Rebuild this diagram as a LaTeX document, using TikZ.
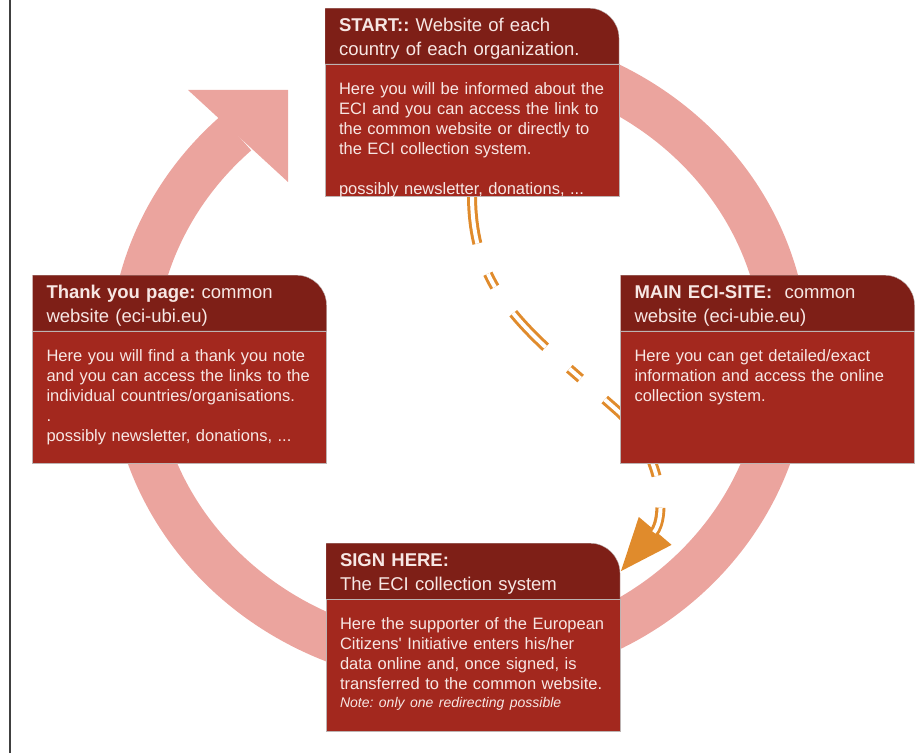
\documentclass[tikz,border=0pt]{standalone}
\usepackage{fontspec}
\setmainfont{Liberation Sans}
\usetikzlibrary{positioning,arrows.meta,backgrounds}
\tikzset{>=latex}
\frenchspacing

\definecolor{hdrred}{HTML}{7E1F17}
\definecolor{bodyred}{HTML}{A3281E}
\definecolor{ringpink}{HTML}{EBA49E}
\definecolor{floworange}{HTML}{E08B2C}
\definecolor{txtpale}{HTML}{F7E7E4}
\definecolor{edgegrey}{HTML}{BDB3B2}

\begin{document}
\begin{tikzpicture}[x=1pt, y=1pt]
    \tikzset{%
      hdr/.style={minimum width=294pt, minimum height=56pt, inner xsep=14pt, inner ysep=0pt,
        text width=266pt, align=left, text height=23pt, text depth=33pt, text=txtpale,
        font=\fontsize{18.5}{24}\selectfont,
        path picture={\fill[hdrred, draw=edgegrey] (path picture bounding box.south west)
          -- (path picture bounding box.north west) -- ([xshift=-30pt]path picture bounding box.north east)
          arc[start angle=90, end angle=0, radius=30pt] -- (path picture bounding box.south east) -- cycle;}},
      bod/.style={fill=bodyred, draw=edgegrey, line width=0.6pt, minimum width=294pt, minimum height=132pt,
        inner xsep=14pt, inner ysep=0pt, text width=266pt, align=left, text height=30pt, text depth=102pt,
        text=txtpale, font=\fontsize{16.5}{20}\selectfont},
      ring/.style={draw=ringpink, line width=46pt},
      flow/.style={draw=floworange, line width=10pt, dash pattern=on 47pt off 32pt on 15pt off 32pt},
      flowgap/.style={draw=white, line width=4pt, dash pattern=on 47pt off 32pt on 15pt off 32pt}
      }
    \useasboundingbox (0,0) rectangle (918,753);
    \draw [line width=1.2pt, black!75] (10,0) -- (10,753);

    \node [hdr, anchor=north] (start) at (472,745) {\textbf{START::} Website of each\\country of each organization.};
    \node [bod, below=0pt of start] (startbody) {Here you will be informed about the\\ECI and you can access the link to\\the common website or directly to\\the ECI collection system.\\[20pt]possibly newsletter, donations, ...};

    \node [hdr, anchor=north] (thank) at (179.5,478) {\textbf{Thank you page:} common\\website (eci-ubi.eu)};
    \node [bod, below=0pt of thank] (thankbody) {Here you will find a thank you note\\and you can access the links to the\\individual countries/organisations.\\.\\possibly newsletter, donations, ...};

    \node [hdr, anchor=north] (main) at (767.5,478) {\textbf{MAIN ECI-SITE:}\ \ common\\website (eci-ubie.eu)};
    \node [bod, below=0pt of main] (mainbody) {Here you can get detailed/exact\\information and access the online\\collection system.};

    \node [hdr, anchor=north] (sign) at (473,210) {\textbf{SIGN HERE:}\\The ECI collection system};
    \node [bod, below=0pt of sign] (signbody) {Here the supporter of the European\\Citizens\textquotesingle{} Initiative enters his/her\\data online and, once signed, is\\transferred to the common website.\\[-2pt]{\fontsize{14}{18}\selectfont\itshape Note: only one redirecting possible}};

    \begin{scope}[on background layer]
      \draw [ring] (459,396) ++(100:327 and 306) arc[start angle=100, end angle=-227, x radius=327, y radius=306];
      \fill [ringpink] (188,663) -- (288,663) -- (288,571) -- cycle;

      \coordinate (bend) at (620,340);
      \coordinate (signin) at ([yshift=-29pt]sign.north east);
      \path [flow, -{Triangle[length=54pt, width=40pt]}] (startbody.south) .. controls +(1,-100) and +(-90,80) .. (bend)
        .. controls +(45,-45) and +(46,54) .. (signin);
      \path [flowgap, shorten >=52pt] (startbody.south) .. controls +(1,-100) and +(-90,80) .. (bend)
        .. controls +(45,-45) and +(46,54) .. (signin);
    \end{scope}
  \end{tikzpicture}
\end{document}
